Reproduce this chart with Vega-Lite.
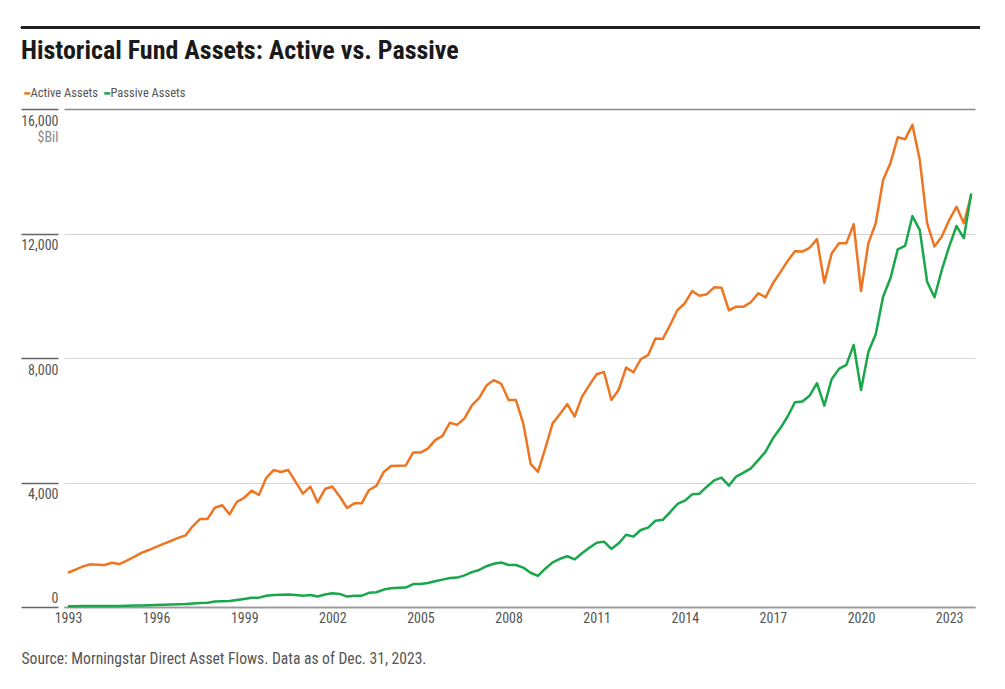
{
  "$schema": "https://vega.github.io/schema/vega-lite/v6.json",
  "autosize": "none",
  "width": 911,
  "height": 498,
  "padding": {"left": 64, "top": 109, "right": 30, "bottom": 82},
  "background": "white",
  "config": {
    "font": "Liberation Sans Narrow, Roboto Condensed, Roboto, sans-serif",
    "view": {"stroke": null}
  },
  "title": {
    "text": "Historical Fund Assets: Active vs. Passive",
    "anchor": "start",
    "frame": "group",
    "dx": -43,
    "offset": -38,
    "fontSize": 26,
    "fontWeight": "bold",
    "color": "#1a1a1a",
    "font": "Liberation Sans Narrow, Roboto Condensed, Roboto, sans-serif"
  },
  "data": {
    "values": [
      {"t":1993,"Active Assets":1100,"Passive Assets":25},{"t":1993.25,"Active Assets":1200,"Passive Assets":27},{"t":1993.5,"Active Assets":1300,"Passive Assets":30},{"t":1993.75,"Active Assets":1370,"Passive Assets":32},
      {"t":1994,"Active Assets":1360,"Passive Assets":33},{"t":1994.25,"Active Assets":1350,"Passive Assets":33},{"t":1994.5,"Active Assets":1420,"Passive Assets":35},{"t":1994.75,"Active Assets":1380,"Passive Assets":36},
      {"t":1995,"Active Assets":1490,"Passive Assets":40},{"t":1995.25,"Active Assets":1610,"Passive Assets":45},{"t":1995.5,"Active Assets":1740,"Passive Assets":52},{"t":1995.75,"Active Assets":1830,"Passive Assets":58},
      {"t":1996,"Active Assets":1930,"Passive Assets":64},{"t":1996.25,"Active Assets":2030,"Passive Assets":72},{"t":1996.5,"Active Assets":2120,"Passive Assets":80},{"t":1996.75,"Active Assets":2220,"Passive Assets":88},
      {"t":1997,"Active Assets":2300,"Passive Assets":96},{"t":1997.25,"Active Assets":2600,"Passive Assets":110},{"t":1997.5,"Active Assets":2830,"Passive Assets":125},{"t":1997.75,"Active Assets":2830,"Passive Assets":140},
      {"t":1998,"Active Assets":3190,"Passive Assets":175},{"t":1998.25,"Active Assets":3270,"Passive Assets":185},{"t":1998.5,"Active Assets":2980,"Passive Assets":190},{"t":1998.75,"Active Assets":3380,"Passive Assets":225},
      {"t":1999,"Active Assets":3510,"Passive Assets":260},{"t":1999.25,"Active Assets":3740,"Passive Assets":300},{"t":1999.5,"Active Assets":3600,"Passive Assets":300},{"t":1999.75,"Active Assets":4150,"Passive Assets":360},
      {"t":2000,"Active Assets":4400,"Passive Assets":385},{"t":2000.25,"Active Assets":4340,"Passive Assets":395},{"t":2000.5,"Active Assets":4400,"Passive Assets":405},{"t":2000.75,"Active Assets":4020,"Passive Assets":385},
      {"t":2001,"Active Assets":3640,"Passive Assets":365},{"t":2001.25,"Active Assets":3870,"Passive Assets":385},{"t":2001.5,"Active Assets":3360,"Passive Assets":335},{"t":2001.75,"Active Assets":3790,"Passive Assets":400},
      {"t":2002,"Active Assets":3870,"Passive Assets":440},{"t":2002.25,"Active Assets":3550,"Passive Assets":420},{"t":2002.5,"Active Assets":3180,"Passive Assets":335},{"t":2002.75,"Active Assets":3330,"Passive Assets":365},
      {"t":2003,"Active Assets":3330,"Passive Assets":365},{"t":2003.25,"Active Assets":3760,"Passive Assets":455},{"t":2003.5,"Active Assets":3890,"Passive Assets":475},{"t":2003.75,"Active Assets":4340,"Passive Assets":560},
      {"t":2004,"Active Assets":4530,"Passive Assets":605},{"t":2004.25,"Active Assets":4540,"Passive Assets":615},{"t":2004.5,"Active Assets":4550,"Passive Assets":625},{"t":2004.75,"Active Assets":4960,"Passive Assets":735},
      {"t":2005,"Active Assets":4960,"Passive Assets":740},{"t":2005.25,"Active Assets":5090,"Passive Assets":770},{"t":2005.5,"Active Assets":5360,"Passive Assets":830},{"t":2005.75,"Active Assets":5500,"Passive Assets":880},
      {"t":2006,"Active Assets":5920,"Passive Assets":930},{"t":2006.25,"Active Assets":5850,"Passive Assets":945},{"t":2006.5,"Active Assets":6060,"Passive Assets":1015},{"t":2006.75,"Active Assets":6480,"Passive Assets":1120},
      {"t":2007,"Active Assets":6720,"Passive Assets":1190},{"t":2007.25,"Active Assets":7120,"Passive Assets":1310},{"t":2007.5,"Active Assets":7290,"Passive Assets":1390},{"t":2007.75,"Active Assets":7170,"Passive Assets":1430},
      {"t":2008,"Active Assets":6650,"Passive Assets":1350},{"t":2008.25,"Active Assets":6650,"Passive Assets":1350},{"t":2008.5,"Active Assets":5900,"Passive Assets":1265},{"t":2008.75,"Active Assets":4600,"Passive Assets":1100},
      {"t":2009,"Active Assets":4340,"Passive Assets":1000},{"t":2009.25,"Active Assets":5100,"Passive Assets":1230},{"t":2009.5,"Active Assets":5900,"Passive Assets":1435},{"t":2009.75,"Active Assets":6200,"Passive Assets":1550},
      {"t":2010,"Active Assets":6520,"Passive Assets":1630},{"t":2010.25,"Active Assets":6120,"Passive Assets":1530},{"t":2010.5,"Active Assets":6760,"Passive Assets":1725},{"t":2010.75,"Active Assets":7130,"Passive Assets":1905},
      {"t":2011,"Active Assets":7480,"Passive Assets":2065},{"t":2011.25,"Active Assets":7550,"Passive Assets":2100},{"t":2011.5,"Active Assets":6650,"Passive Assets":1865},{"t":2011.75,"Active Assets":6980,"Passive Assets":2045},
      {"t":2012,"Active Assets":7690,"Passive Assets":2320},{"t":2012.25,"Active Assets":7540,"Passive Assets":2260},{"t":2012.5,"Active Assets":7960,"Passive Assets":2475},{"t":2012.75,"Active Assets":8090,"Passive Assets":2550},
      {"t":2013,"Active Assets":8630,"Passive Assets":2770},{"t":2013.25,"Active Assets":8610,"Passive Assets":2800},{"t":2013.5,"Active Assets":9060,"Passive Assets":3050},{"t":2013.75,"Active Assets":9540,"Passive Assets":3310},
      {"t":2014,"Active Assets":9760,"Passive Assets":3415},{"t":2014.25,"Active Assets":10150,"Passive Assets":3620},{"t":2014.5,"Active Assets":10000,"Passive Assets":3640},{"t":2014.75,"Active Assets":10050,"Passive Assets":3865},
      {"t":2015,"Active Assets":10270,"Passive Assets":4070},{"t":2015.25,"Active Assets":10260,"Passive Assets":4155},{"t":2015.5,"Active Assets":9530,"Passive Assets":3900},{"t":2015.75,"Active Assets":9650,"Passive Assets":4190},
      {"t":2016,"Active Assets":9650,"Passive Assets":4315},{"t":2016.25,"Active Assets":9790,"Passive Assets":4455},{"t":2016.5,"Active Assets":10080,"Passive Assets":4720},{"t":2016.75,"Active Assets":9950,"Passive Assets":4990},
      {"t":2017,"Active Assets":10400,"Passive Assets":5420},{"t":2017.25,"Active Assets":10750,"Passive Assets":5740},{"t":2017.5,"Active Assets":11120,"Passive Assets":6120},{"t":2017.75,"Active Assets":11430,"Passive Assets":6580},
      {"t":2018,"Active Assets":11420,"Passive Assets":6600},{"t":2018.25,"Active Assets":11540,"Passive Assets":6790},{"t":2018.5,"Active Assets":11820,"Passive Assets":7190},{"t":2018.75,"Active Assets":10420,"Passive Assets":6470},
      {"t":2019,"Active Assets":11360,"Passive Assets":7320},{"t":2019.25,"Active Assets":11690,"Passive Assets":7650},{"t":2019.5,"Active Assets":11690,"Passive Assets":7780},{"t":2019.75,"Active Assets":12300,"Passive Assets":8420},
      {"t":2020,"Active Assets":10150,"Passive Assets":6970},{"t":2020.25,"Active Assets":11690,"Passive Assets":8200},{"t":2020.5,"Active Assets":12330,"Passive Assets":8760},{"t":2020.75,"Active Assets":13720,"Passive Assets":9970},
      {"t":2021,"Active Assets":14260,"Passive Assets":10560},{"t":2021.25,"Active Assets":15090,"Passive Assets":11490},{"t":2021.5,"Active Assets":15030,"Passive Assets":11600},{"t":2021.75,"Active Assets":15490,"Passive Assets":12560},
      {"t":2022,"Active Assets":14360,"Passive Assets":12110},{"t":2022.25,"Active Assets":12330,"Passive Assets":10450},{"t":2022.5,"Active Assets":11580,"Passive Assets":9950},{"t":2022.75,"Active Assets":11900,"Passive Assets":10830},
      {"t":2023,"Active Assets":12430,"Passive Assets":11580},{"t":2023.25,"Active Assets":12860,"Passive Assets":12240},{"t":2023.5,"Active Assets":12330,"Passive Assets":11850},{"t":2023.75,"Active Assets":13230,"Passive Assets":13290}
    ]
  },
  "layer": [
    {
      "transform": [{"fold": ["Active Assets", "Passive Assets"], "as": ["series", "value"]}],
      "mark": {"type": "line", "strokeWidth": 2.5, "strokeJoin": "round"},
      "encoding": {
        "x": {
          "field": "t",
          "type": "quantitative",
          "scale": {"domain": [1992.864, 2023.88], "nice": false, "zero": false},
          "axis": {
            "values": [1993, 1996, 1999, 2002, 2005, 2008, 2011, 2014, 2017, 2020, 2023],
            "format": "d",
            "grid": false,
            "ticks": false,
            "domainColor": "#9a9a9a",
            "domainWidth": 1.5,
            "labelColor": "#555555",
            "labelFontSize": 14,
            "labelPadding": 4,
            "title": "Source: Morningstar Direct Asset Flows. Data as of Dec. 31, 2023.",
            "titleAnchor": "start",
            "titleAlign": "left",
            "titleX": -43,
            "titleY": 44,
            "titleFontSize": 15.6,
            "titleFontWeight": "normal",
            "titleColor": "#555555"
          }
        },
        "y": {
          "field": "value",
          "type": "quantitative",
          "scale": {"domain": [0, 16000], "nice": false},
          "axis": {
            "values": [0, 4000, 8000, 12000, 16000],
            "format": ",d",
            "offset": 6,
            "domain": false,
            "tickSize": 37,
            "tickColor": "#666666",
            "tickWidth": 1.5,
            "gridColor": {"condition": {"test": "datum.value == 16000 || datum.value == 0", "value": "#8c8c8c"}, "value": "#d4d4d4"},
            "gridWidth": {"condition": {"test": "datum.value == 16000 || datum.value == 0", "value": 1.5}, "value": 1},
            "labelAlign": "right",
            "labelPadding": -37,
            "labelBaseline": {"condition": {"test": "datum.value == 0", "value": "alphabetic"}, "value": "top"},
            "labelOffset": {"condition": {"test": "datum.value == 0", "value": -5}, "value": 5},
            "labelColor": "#555555",
            "labelFontSize": 14,
            "title": "$Bil",
            "titleAngle": 0,
            "titleAlign": "right",
            "titleBaseline": "alphabetic",
            "titleX": 0,
            "titleY": 32,
            "titleFontSize": 14,
            "titleFontWeight": "normal",
            "titleColor": "#888888"
          }
        },
        "color": {
          "field": "series",
          "type": "nominal",
          "scale": {"domain": ["Active Assets", "Passive Assets"], "range": ["#EE7623", "#1AA64A"]},
          "legend": {
            "title": null,
            "orient": "none",
            "direction": "horizontal",
            "legendX": -43,
            "legendY": -22,
            "symbolType": "stroke",
            "symbolSize": 36,
            "symbolStrokeWidth": 2.5,
            "labelFontSize": 12.5,
            "labelColor": "#555555",
            "labelOffset": -3,
            "columnPadding": 1
          }
        }
      }
    },
    {
      "mark": {"type": "rule", "color": "#222222", "strokeWidth": 2, "clip": false},
      "encoding": {
        "x": {"datum": 1991.4, "type": "quantitative"},
        "x2": {"datum": 2024.05},
        "y": {"datum": 18619, "type": "quantitative"}
      }
    }
  ]
}
